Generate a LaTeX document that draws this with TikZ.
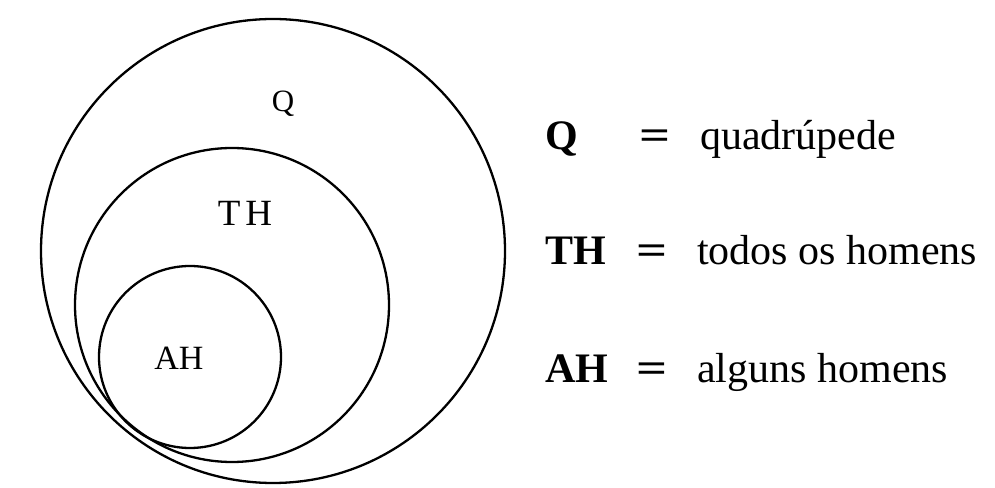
\documentclass[tikz,border=0pt]{standalone}
\usepackage{fontspec}
\setmainfont{Liberation Serif}
\usetikzlibrary{positioning}
\tikzset{
  set/.style={circle, draw=black, line width=2.3pt, inner sep=0pt, minimum size=#1},
  inlabel/.style={font=\fontsize{#1}{#1}\selectfont, inner sep=0pt},
  keylab/.style={font=\fontsize{42}{42}\selectfont\bfseries, inner sep=0pt, anchor=base west},
  eqsign/.style={font=\fontsize{42}{42}\selectfont\bfseries, inner sep=0pt, anchor=base},
  meaning/.style={font=\fontsize{42}{42}\selectfont, inner sep=0pt, anchor=base west},
}
\newcommand{\wideeq}{\scalebox{1.3}[1]{=}}
\begin{document}
\begin{tikzpicture}[x=1pt, y=1pt]
\useasboundingbox (0,0) rectangle (995,487);

% ------------------------------------------------------------------ sets
\node[set=464pt] (q)  at (273,236) {};
\node[set=314pt] (th) at (232,182) {};
\node[set=182pt] (ah) at (190,130) {};

\node[inlabel=31] (qlab)  at (283,383) {Q};
\node[inlabel=37] (thlab) at (245,274) {T\kern5pt H};
\node[inlabel=34] (ahlab) at (179,129) {AH};

% ------------------------------------------------------------------ legend
\node[keylab] (kq)  at (545,337) {Q};
\node[eqsign] (eq1) at (655,337) {\wideeq};
\node[meaning] (mq) at (700,337) {quadrúpede};

\node[keylab] (kth)  at (545,222) {TH};
\node[eqsign] (eq2)  at (652,222) {\wideeq};
\node[meaning] (mth) at (697,222) {todos os homens};

\node[keylab] (kah)  at (545,104) {AH};
\node[eqsign] (eq3)  at (652,104) {\wideeq};
\node[meaning] (mah) at (697,104) {alguns homens};

\end{tikzpicture}
\end{document}
